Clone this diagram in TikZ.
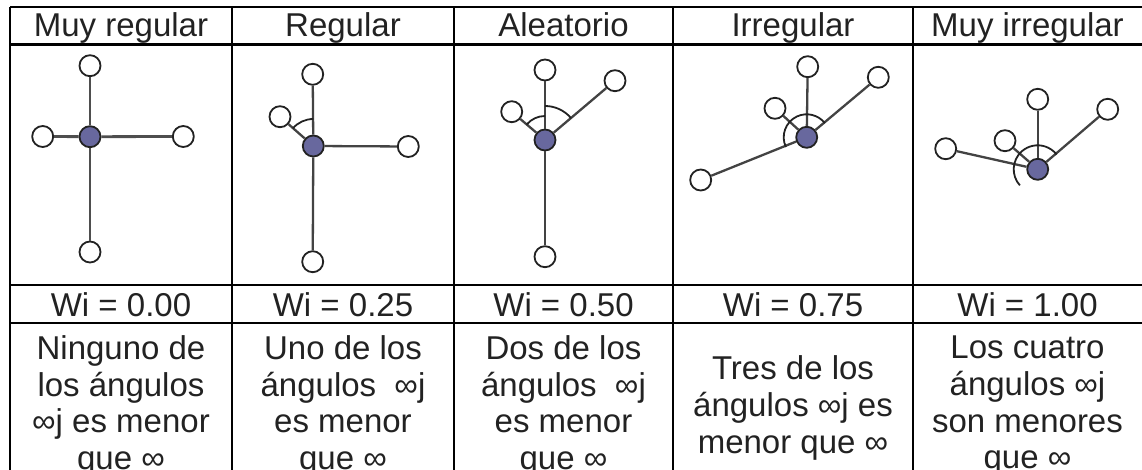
\documentclass[tikz,border=0pt]{standalone}
\usepackage{fontspec}
\setmainfont{Liberation Sans}
\definecolor{hub}{HTML}{68689E}
\definecolor{ink}{HTML}{222222}
\begin{document}
\begin{tikzpicture}[x=1pt,y=1pt,
  gridline/.style={line width=2.6pt, black},
  leaf/.style={circle, draw=ink, fill=white, line width=1.8pt, minimum size=21pt, inner sep=0pt},
  hubnode/.style={circle, draw=ink, fill=hub, line width=1.8pt, minimum size=21pt, inner sep=0pt},
  bond/.style={draw=ink!85, line width=2.3pt},
  angarc/.style={draw=ink, line width=1.8pt},
  txt/.style={font=\fontsize{33}{36.7}\selectfont, text=ink, align=center, inner sep=0pt},
  oneline/.style={font=\fontsize{33}{36.7}\selectfont, text=ink, inner sep=0pt, anchor=base}]
\useasboundingbox (0,0) rectangle (1142,-470);
% table grid
\foreach \y in {-7,-44.5,-285,-323} \draw[gridline] (10,\y) -- (1142,\y);
\foreach \x in {10,232,454,673,913} \draw[gridline] (\x,-7) -- (\x,-470);
% headers
\node[oneline] (h1) at (121,-37) {Muy regular};
\node[oneline] (h2) at (343,-37) {Regular};
\node[oneline] (h3) at (563.5,-37) {Aleatorio};
\node[oneline] (h4) at (793,-37) {Irregular};
\node[oneline] (h5) at (1027.5,-37) {Muy irregular};
% Wi row
\node[oneline] (w1) at (121,-316) {Wi = 0.00};
\node[oneline] (w2) at (343,-316) {Wi = 0.25};
\node[oneline] (w3) at (563.5,-316) {Wi = 0.50};
\node[oneline] (w4) at (793,-316) {Wi = 0.75};
\node[oneline] (w5) at (1027.5,-316) {Wi = 1.00};
% descriptions
\node[txt] (d1) at (121,-406) {Ninguno de\\los ángulos\\∞j es menor\\que ∞};
\node[txt] (d2) at (343,-406) {Uno de los\\ángulos~ ∞j\\es menor\\que ∞};
\node[txt] (d3) at (563.5,-406) {Dos de los\\ángulos~ ∞j\\es menor\\que ∞};
\node[txt] (d4) at (793,-408) {Tres de los\\ángulos ∞j es\\menor que ∞};
\node[txt] (d5) at (1027.5,-406) {Los cuatro\\ángulos ∞j\\son menores\\que ∞};
% Panel 1
\node[hubnode] (c1) at (90,-136.7) {};
\node[leaf] (t1) at (90,-65.7) {};
\node[leaf] (l1) at (42.7,-136.5) {};
\node[leaf] (r1) at (183.3,-136.5) {};
\node[leaf] (b1) at (90,-252) {};
\foreach \n in {t1,l1,r1,b1} \draw[bond, line width=2.8pt, draw=ink!80] (c1) -- (\n);
% Panel 2
\node[hubnode] (c2) at (313.3,-146) {};
\node[leaf] (t2) at (312.7,-74.3) {};
\node[leaf] (u2) at (280,-116.7) {};
\node[leaf] (r2) at (408.3,-146.5) {};
\node[leaf] (b2) at (312.7,-261.7) {};
\foreach \n in {t2,u2,r2,b2} \draw[bond] (c2) -- (\n);
\draw[angarc] (c2.center) ++(139:27) arc[start angle=139, end angle=90, radius=27];
% Panel 3
\node[hubnode] (c3) at (545,-140) {};
\node[leaf] (t3) at (545,-70) {};
\node[leaf] (u3) at (511.7,-111.7) {};
\node[leaf] (v3) at (615,-80.7) {};
\node[leaf] (b3) at (545,-256.7) {};
\foreach \n in {t3,u3,v3,b3} \draw[bond] (c3) -- (\n);
\draw[angarc] (c3.center) ++(140:24) arc[start angle=140, end angle=90, radius=24];
\draw[angarc] (c3.center) ++(90:34) arc[start angle=90, end angle=40, radius=34];
% Panel 4
\node[hubnode] (c4) at (806.7,-137.3) {};
\node[leaf] (t4) at (807.7,-66.7) {};
\node[leaf] (u4) at (775,-108.3) {};
\node[leaf] (v4) at (878.3,-77.3) {};
\node[leaf] (l4) at (700.7,-180) {};
\foreach \n in {t4,u4,v4,l4} \draw[bond] (c4) -- (\n);
\draw[angarc] (c4.center) ++(205:23) arc[start angle=205, end angle=38, radius=23];
% Panel 5
\node[hubnode] (c5) at (1037.7,-169.3) {};
\node[leaf] (t5) at (1037.7,-99.3) {};
\node[leaf] (u5) at (1005,-140.7) {};
\node[leaf] (v5) at (1107.7,-109.3) {};
\node[leaf] (l5) at (945.7,-148.7) {};
\foreach \n in {t5,u5,v5,l5} \draw[bond] (c5) -- (\n);
\draw[angarc] (c5.center) ++(222:24) arc[start angle=222, end angle=38, radius=24];
\end{tikzpicture}
\end{document}
